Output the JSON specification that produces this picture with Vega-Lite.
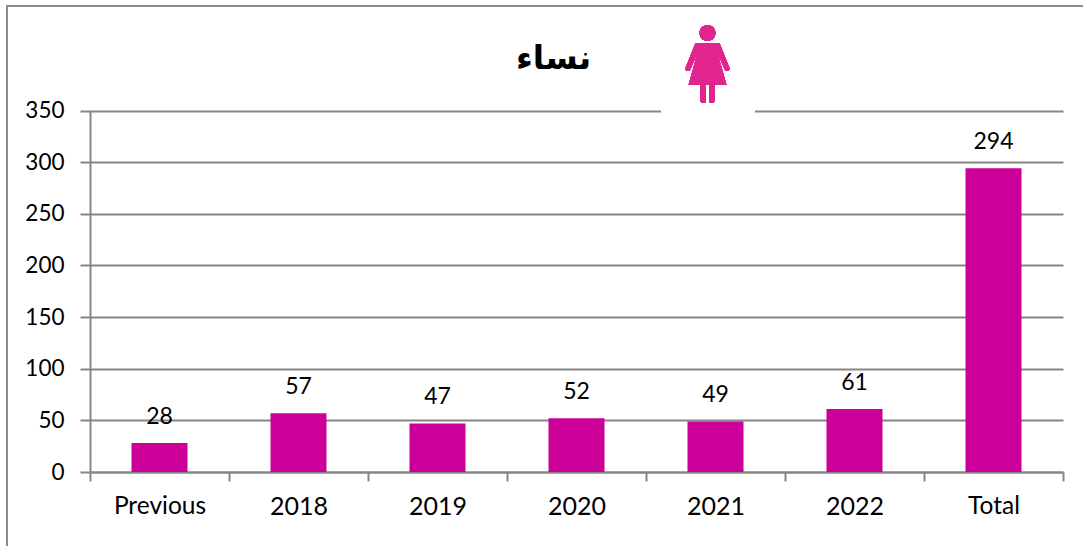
{"$schema":"https://vega.github.io/schema/vega-lite/v6.json","width":1083,"height":546,"autosize":{"type":"none"},"padding":{"left":7,"top":6,"right":-7,"bottom":-6},"background":"white","config":{"view":{"stroke":"#8c8c8c","strokeWidth":2,"fill":null}},"title":{"text":"نساء","anchor":"start","frame":"group","font":"DejaVu Sans","fontWeight":"bold","fontSize":33,"color":"black","dx":509,"dy":100,"baseline":"alphabetic"},"data":{"values":[{"period":"Previous","count":28},{"period":"2018","count":57},{"period":"2019","count":47},{"period":"2020","count":52},{"period":"2021","count":49},{"period":"2022","count":61},{"period":"Total","count":294}]},"encoding":{"x":{"field":"period","type":"nominal","sort":null,"scale":{"range":[83,1056],"paddingInner":0,"paddingOuter":0},"axis":{"title":null,"labelAngle":0,"offset":-80,"domainColor":"#868686","domainWidth":2,"tickColor":"#868686","tickWidth":2,"tickSize":9,"tickBand":"extent","labelPadding":25,"labelFont":"Lato","labelFontSize":{"condition":{"test":"datum.value==='Previous'||datum.value==='Total'","value":24.5},"value":25},"labelColor":"black","labelBaseline":"middle","grid":false}},"y":{"field":"count","type":"quantitative","scale":{"domain":[0,350],"range":[466,104.5],"nice":false},"axis":{"title":null,"offset":-83,"values":[0,50,100,150,200,250,300,350],"domainColor":"#868686","domainWidth":2,"tickColor":"#868686","tickWidth":2,"tickSize":10,"labelPadding":16,"labelFont":"Lato","labelFontSize":22.5,"labelColor":"black","grid":true,"gridColor":"#868686","gridWidth":2,"gridOpacity":1}}},"layer":[{"mark":{"type":"bar","color":"#CC0099","width":{"band":0.403}}},{"mark":{"type":"text","dy":-26,"font":"Lato","fontSize":23,"color":"black","baseline":"middle"},"encoding":{"text":{"field":"count","type":"quantitative"}}},{"mark":{"type":"point","shape":"square","filled":true,"color":"white","opacity":1,"size":8649,"xOffset":-7.5},"encoding":{"x":{"datum":"2021"},"y":{"datum":393}}},{"mark":{"type":"point","shape":"M -.24 -.42 L .24 -.42 L .44 .08 Q .45 .13 .40 .14 Q .36 .15 .34 .10 L .20 -.22 L .38 .42 L .14 .42 L .14 .74 Q .14 .78 .09 .78 Q .03 .78 .03 .74 L .03 .42 L -.03 .42 L -.03 .74 Q -.03 .78 -.09 .78 Q -.14 .78 -.14 .74 L -.14 .42 L -.38 .42 L -.20 -.22 L -.34 .10 Q -.36 .15 -.40 .14 Q -.45 .13 -.44 .08 Z M 0 -.78 A .16 .16 0 1 1 0 -.46 A .16 .16 0 1 1 0 -.78 Z","filled":true,"color":"#E0258F","opacity":1,"size":10000,"xOffset":-8},"encoding":{"x":{"datum":"2021"},"y":{"datum":395}}}]}
